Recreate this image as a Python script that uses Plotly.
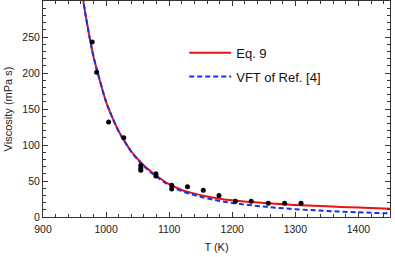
import plotly.graph_objects as go

# Measured data points (T in K, viscosity in mPa s)
T_data = [978, 985, 1004, 1028, 1055, 1055, 1055, 1079, 1079, 1104, 1104, 1129,
          1154, 1179, 1205, 1230, 1257, 1283, 1309]
V_data = [243, 201, 132, 110, 72, 68, 65, 60, 57, 44, 39, 42,
          37, 30, 22, 22, 19, 19, 19]

# Eq. 9 curve
T_eq9 = [955, 964, 970, 980, 990, 1000, 1010, 1020, 1030, 1040, 1050, 1060, 1070, 1080,
         1090, 1100, 1120, 1140, 1160, 1180, 1200, 1250, 1300, 1350, 1400, 1450]
V_eq9 = [362, 300, 268, 223, 190, 160, 138, 119, 104, 91, 80.5, 71.4, 64, 57.3,
         51, 45.5, 37.5, 32.5, 28.5, 25.5, 23.2, 19.3, 16.8, 14.8, 13.1, 11.6]

# VFT of Ref. [4] curve
T_vft = [955, 964, 970, 980, 990, 1000, 1010, 1020, 1030, 1040, 1050, 1060, 1070, 1080,
         1090, 1100, 1120, 1140, 1160, 1180, 1200, 1250, 1300, 1350, 1400, 1450]
V_vft = [362, 300, 268, 223, 190, 160, 138, 119, 104, 90.5, 80, 70.5, 62.5, 56,
         49.5, 44, 36, 30.5, 26, 22.3, 19.5, 14.5, 10.9, 8.4, 6.5, 5.0]

x_ticks = [900, 1000, 1100, 1200, 1300, 1400]
y_ticks = [0, 50, 100, 150, 200, 250]

fam = "Liberation Sans, Arial, sans-serif"
font = dict(family=fam, size=11, color="#222")
tick_font = dict(family=fam, size=10.5, color="#222")
legend_font = dict(family=fam, size=13, color="#111")

fig = go.Figure()
fig.add_trace(go.Scatter(x=T_eq9, y=V_eq9, mode="lines", name="Eq. 9", legendgroup="a",
                         line=dict(color="#ee1111", width=2, shape="spline")))
fig.add_trace(go.Scatter(x=T_vft, y=V_vft, mode="lines", name="VFT of Ref. [4]", legendgroup="b",
                         line=dict(color="#1133ee", width=2, dash="5px,3px", shape="spline")))
fig.add_trace(go.Scatter(x=T_data, y=V_data, mode="markers", showlegend=False,
                         marker=dict(color="black", size=5)))

axis_common = dict(showgrid=False, zeroline=False, showline=True, linecolor="#333",
                   linewidth=1, mirror="allticks", ticks="inside", ticklen=5,
                   tickcolor="#333", tickwidth=1, tickfont=tick_font)

fig.update_xaxes(range=[900, 1450], tickvals=x_ticks, ticklabelstandoff=2,
                 title=dict(text="T (K)", font=font, standoff=9),
                 minor=dict(ticks="inside", ticklen=3, dtick=20, tickcolor="#333", showgrid=False),
                 **axis_common)
fig.update_yaxes(range=[0, 300], tickvals=y_ticks,
                 title=dict(text="Viscosity (mPa s)", font=font, standoff=7),
                 minor=dict(ticks="inside", ticklen=3, dtick=10, tickcolor="#333", showgrid=False),
                 **axis_common)

fig.update_layout(width=395, height=257, margin=dict(l=43, r=5, t=1, b=40),
                  plot_bgcolor="white", paper_bgcolor="white", font=font,
                  legend=dict(x=0.407, y=0.83, xanchor="left", yanchor="top", itemwidth=42,
                              bgcolor="rgba(0,0,0,0)", font=legend_font, tracegroupgap=4))

fig.write_html("out.html", config={"displayModeBar": False},
               post_script="document.body.style.margin='0';")
